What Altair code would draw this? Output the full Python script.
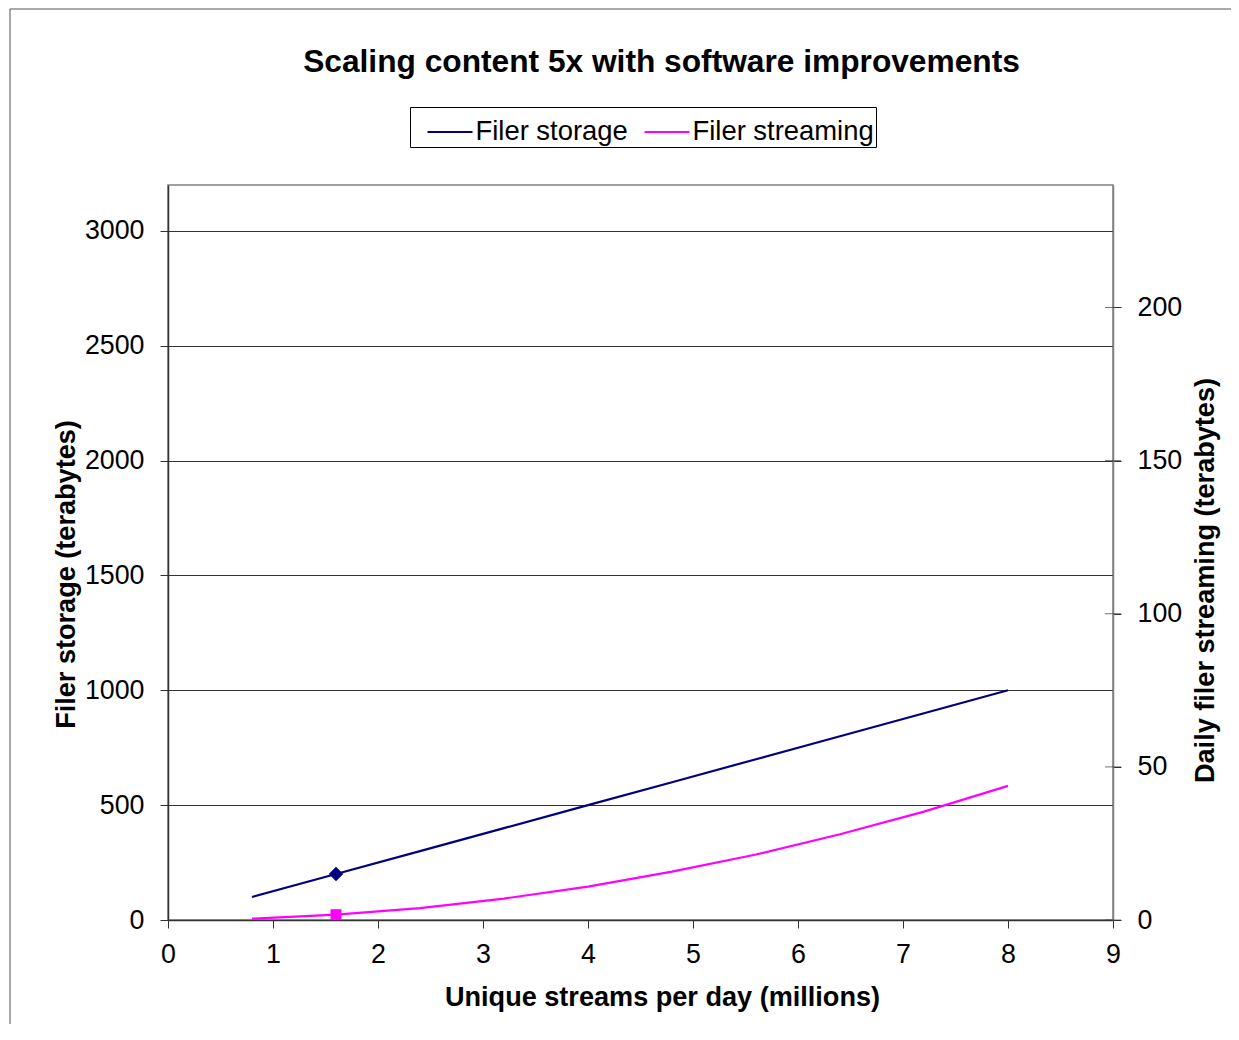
import altair as alt
import pandas as pd

# ---- data ----
streams = [0.8, 1.6, 2.4, 3.2, 4.0, 4.8, 5.6, 6.4, 7.2, 8.0]
storage_tb = [100, 200, 300, 400, 500, 600, 700, 800, 900, 1000]
streaming_tb = [0.45, 1.75, 3.9, 7.0, 10.9, 15.8, 21.4, 28.0, 35.4, 43.8]
marker_idx = [1]
series = ["Filer storage", "Filer streaming"]
colors = ["#000080", "#FF00FF"]
x_ticks = [0, 1, 2, 3, 4, 5, 6, 7, 8, 9]
left_ticks = [0, 500, 1000, 1500, 2000, 2500, 3000]
right_ticks = [0, 50, 100, 150, 200]

FONT = "Liberation Sans"

df = pd.DataFrame({"x": streams, "storage": storage_tb, "streaming": streaming_tb})
mk = pd.DataFrame({
    "x": [streams[i] for i in marker_idx],
    "storage": [storage_tb[i] for i in marker_idx],
    "streaming": [streaming_tb[i] for i in marker_idx],
})
rt = pd.DataFrame({"v": right_ticks})
frame_df = pd.DataFrame({"a": [0]})

xenc = alt.X("x:Q", scale=alt.Scale(domain=[0, 9], nice=False, zero=False),
             axis=alt.Axis(values=x_ticks, format="d", title="Unique streams per day (millions)",
                           grid=False, titleX=494, titleY=85, titleBaseline="alphabetic",
                           labelPadding=13))
color_scale = alt.Scale(domain=series, range=colors)

left_scale = alt.Scale(domain=[0, 3200], nice=False)
left_axis = alt.Axis(values=left_ticks, format="d", title="Filer storage (terabytes)", grid=True,
                     gridColor="#333333", gridWidth=1, labelPadding=16,
                     titleX=-94, titleY=389, titleAngle=270, titleBaseline="alphabetic",
                     titleAnchor="middle")
right_scale = alt.Scale(domain=[0, 240], nice=False)
right_axis = alt.Axis(values=right_ticks, format="d", title="Daily filer streaming (terabytes)",
                      orient="right", grid=False, labelPadding=16, domainColor="#808080",
                      titleX=100, titleY=395, titleAngle=270, titleBaseline="alphabetic")

blue_line = alt.Chart(df).transform_calculate(series=f"'{series[0]}'").mark_line(strokeWidth=2.2).encode(
    x=xenc,
    y=alt.Y("storage:Q", scale=left_scale, axis=left_axis),
    color=alt.Color("series:N", scale=color_scale, legend=alt.Legend(title=None)),
)
blue_pt = alt.Chart(mk).mark_point(shape="diamond", filled=True, size=210, opacity=1).encode(
    x="x:Q", y="storage:Q", color=alt.value(colors[0]))

pink_line = alt.Chart(df).transform_calculate(series=f"'{series[1]}'").mark_line(strokeWidth=2.2).encode(
    x="x:Q",
    y=alt.Y("streaming:Q", scale=right_scale, axis=right_axis),
    color=alt.Color("series:N", scale=color_scale),
)
pink_pt = alt.Chart(mk).mark_point(shape="square", filled=True, size=120, opacity=1).encode(
    x="x:Q", y="streaming:Q", color=alt.value(colors[1]))
right_inner = alt.Chart(rt).mark_tick(color="#333333", size=16, thickness=1).encode(
    y="v:Q", x=alt.value(945))

frame = alt.Chart(frame_df).mark_rect(fill=None, stroke="#555555", strokeWidth=1).encode(
    x=alt.value(-158), x2=alt.value(1100), y=alt.value(-176), y2=alt.value(900))

left = alt.layer(frame, blue_line, blue_pt)
right = alt.layer(pink_line, pink_pt, right_inner)

chart = alt.layer(left, right).resolve_scale(y="independent").properties(
    width=945, height=735,
    autosize=alt.AutoSizeParams(type="none"),
    padding={"left": 160, "top": 177, "right": 118, "bottom": 104},
    title=alt.TitleParams("Scaling content 5x with software improvements", fontSize=31.7,
                          font=FONT, fontWeight="bold", color="black", anchor="middle",
                          frame="group", dx=21, offset=-95, baseline="alphabetic"),
).configure(background="white").configure_view(
    stroke="#808080", strokeWidth=1.5
).configure_axis(
    labelFont=FONT, titleFont=FONT, labelFontSize=26.8, titleFontSize=27.1,
    labelColor="black", titleColor="black", titleFontWeight="bold",
    domainColor="#333333", tickColor="#333333", tickSize=8, domainWidth=1.5,
    labelFlush=False, labelOverlap=False,
).configure_legend(
    orient="none", legendX=242, legendY=-78, direction="horizontal",
    strokeColor="black", fillColor="white", padding=1.5, labelLimit=400,
    labelFont=FONT, labelFontSize=27.4, labelColor="black", labelOffset=2,
    symbolType="stroke", symbolSize=2025, symbolStrokeWidth=2, symbolOffset=15,
    columnPadding=0,
)

chart.save("out.html", embed_options={"renderer": "svg", "actions": False})
